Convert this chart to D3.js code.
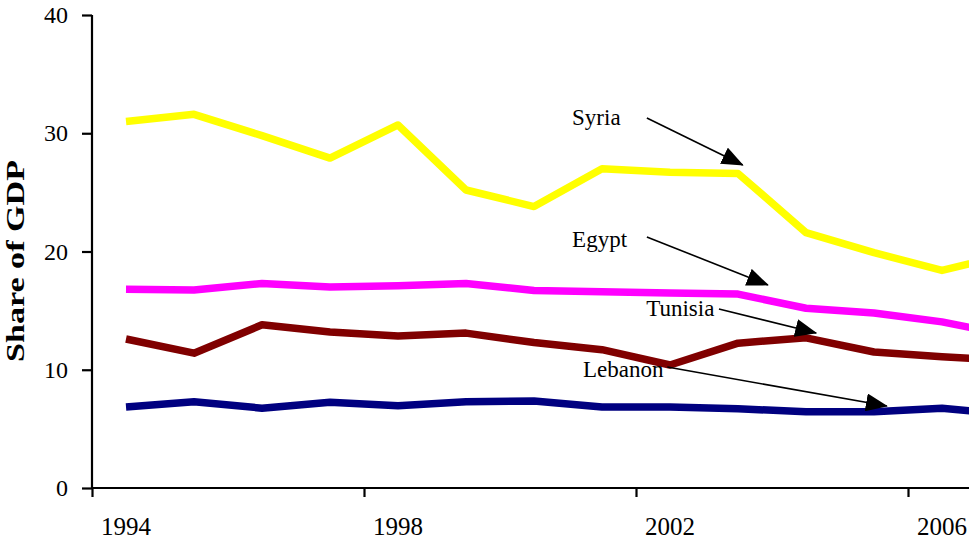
<!DOCTYPE html>
<html>
<head>
<meta charset="utf-8">
<script src="https://cdn.jsdelivr.net/npm/d3@7"></script>
<style>
  html, body { margin: 0; padding: 0; background: #fff; }
  svg { display: block; }
  text { font-family: "Liberation Serif", "Times New Roman", serif; fill: #000; }
</style>
</head>
<body>
<svg id="chart" width="969" height="540"></svg>
<script>
// ---- Data ----
const years = [1994, 1995, 1996, 1997, 1998, 1999, 2000, 2001, 2002, 2003, 2004, 2005, 2006, 2007];
const syria   = [31.0, 31.6, 29.8, 27.9, 30.7, 25.2, 23.8, 27.0, 26.7, 26.6, 21.6, 19.9, 18.4, 19.8];
const egypt   = [16.8, 16.75, 17.3, 17.0, 17.1, 17.3, 16.7, 16.6, 16.5, 16.4, 15.2, 14.8, 14.05, 12.9];
const tunisia = [12.6, 11.4, 13.8, 13.2, 12.85, 13.1, 12.3, 11.7, 10.4, 12.25, 12.7, 11.5, 11.1, 10.8];
const lebanon = [6.85, 7.3, 6.75, 7.25, 6.95, 7.3, 7.35, 6.85, 6.85, 6.7, 6.45, 6.45, 6.75, 6.2];
const yTicks = [0, 10, 20, 30, 40];
const xLabels = [1994, 1998, 2002, 2006];

const seriesNames = ["Syria", "Egypt", "Tunisia", "Lebanon"];
const seriesValues = [syria, egypt, tunisia, lebanon];
const seriesColors = ["#FFFF00", "#FF00FF", "#800000", "#000080"];

// annotation label anchor and arrow (data coordinates: year, value)
const annoLabel = [[2000.56, 30.7], [2000.56, 20.38], [2001.65, 14.55], [2000.72, 9.39]];
const annoFrom  = [[2001.66, 31.29], [2001.66, 21.23], [2002.72, 15.14], [2001.96, 10.23]];
const annoTo    = [[2003.07, 27.32], [2003.44, 17.17], [2004.15, 13.11], [2005.19, 6.93]];

// ---- Scales ----
const svg = d3.select("#chart");
const x = d3.scaleLinear().domain([1993.5, 2007.5]).range([92, 92 + 68 * 14]);
const y = d3.scaleLinear().domain([0, 40]).range([488, 15]);

// ---- Defs ----
svg.append("defs").append("marker")
  .attr("id", "arrow")
  .attr("viewBox", "0 0 22 18")
  .attr("refX", 21).attr("refY", 9)
  .attr("markerWidth", 22).attr("markerHeight", 18)
  .attr("markerUnits", "userSpaceOnUse")
  .attr("orient", "auto")
  .append("path").attr("d", "M0,0 L22,9 L0,18 Z").attr("fill", "#000");

// ---- Lines ----
const line = d3.line().x((d, i) => x(years[i])).y(d => y(d));
svg.append("g").selectAll("path.series")
  .data(seriesValues)
  .join("path")
  .attr("class", "series")
  .attr("d", d => line(d))
  .attr("fill", "none")
  .attr("stroke", (d, i) => seriesColors[i])
  .attr("stroke-width", 7.5)
  .attr("stroke-linejoin", "round")
  .attr("stroke-linecap", "butt");

// ---- Axes ----
const yAxis = d3.axisLeft(y).tickValues(yTicks).tickSize(10).tickPadding(14).tickFormat(d3.format("d"));
const gy = svg.append("g").attr("transform", `translate(${x(1993.5)},0)`).call(yAxis);
gy.select(".domain").attr("stroke", "#000").attr("stroke-width", 2.2).attr("d", `M0,${y(40)}V${y(0)}`);
gy.selectAll(".tick line").attr("stroke", "#000").attr("stroke-width", 2.2);
gy.selectAll(".tick text").attr("font-size", 24).attr("font-family", "Liberation Serif, serif");

const tickPositions = xLabels.map(v => v - 0.5);
const xAxis = d3.axisBottom(x).tickValues(tickPositions).tickSize(9).tickFormat("");
const gx = svg.append("g").attr("transform", `translate(0,${y(0)})`).call(xAxis);
gx.select(".domain").attr("stroke", "#000").attr("stroke-width", 2.2)
  .attr("d", `M${x(1993.5)},0H${x(2007.5)}`);
gx.selectAll(".tick line").attr("stroke", "#000").attr("stroke-width", 2.2);

svg.append("g").selectAll("text.xl")
  .data(xLabels)
  .join("text")
  .attr("class", "xl")
  .attr("x", d => x(d))
  .attr("y", 535)
  .attr("text-anchor", "middle")
  .attr("font-size", 25)
  .text(d => d);

// ---- Y title ----
svg.append("text")
  .attr("transform", "translate(24,261) rotate(-90)")
  .attr("text-anchor", "middle")
  .attr("font-size", 25)
  .attr("font-weight", "bold")
  .attr("textLength", 202)
  .attr("lengthAdjust", "spacingAndGlyphs")
  .text("Share of GDP");

// ---- Annotations ----
const ga = svg.append("g");
seriesNames.forEach((name, i) => {
  ga.append("text")
    .attr("x", x(annoLabel[i][0]))
    .attr("y", y(annoLabel[i][1]))
    .attr("font-size", 23)
    .text(name);
  ga.append("line")
    .attr("x1", x(annoFrom[i][0])).attr("y1", y(annoFrom[i][1]))
    .attr("x2", x(annoTo[i][0])).attr("y2", y(annoTo[i][1]))
    .attr("stroke", "#000").attr("stroke-width", 1.6)
    .attr("marker-end", "url(#arrow)");
});
</script>
</body>
</html>
